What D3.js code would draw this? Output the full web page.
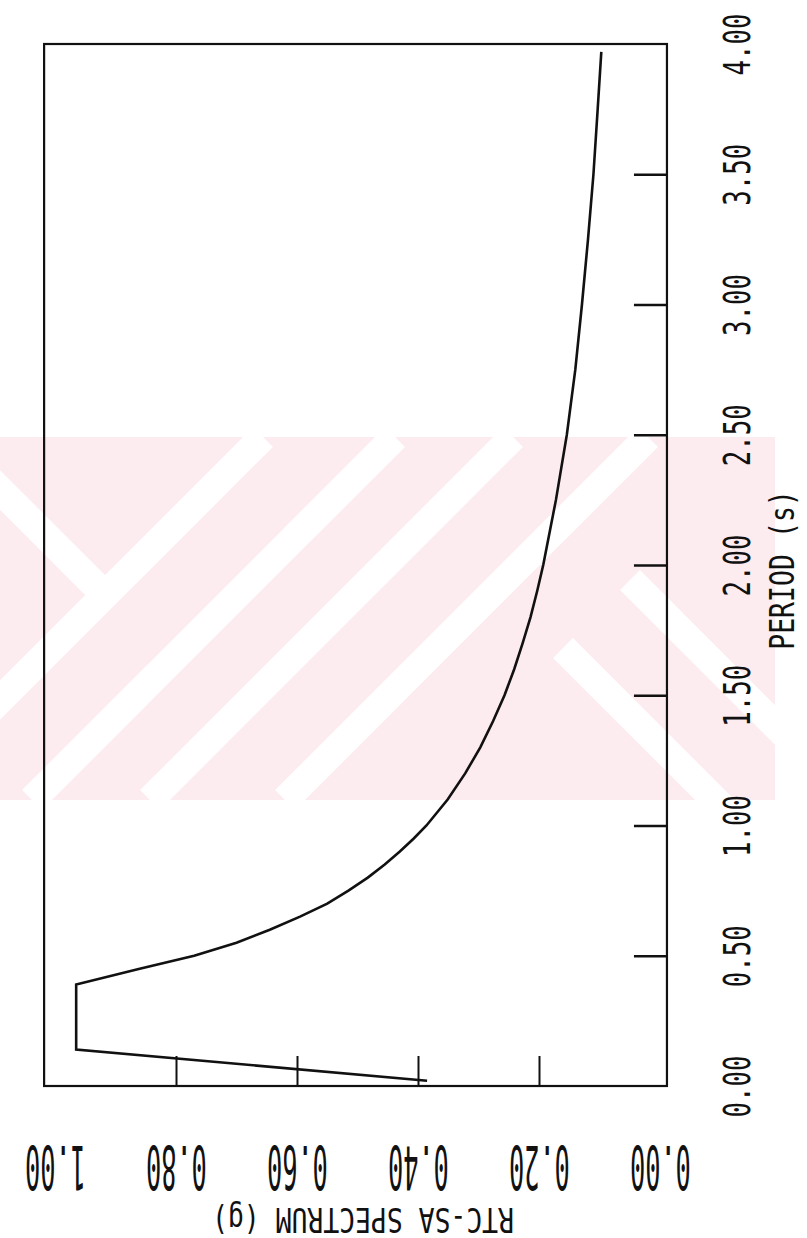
<!DOCTYPE html>
<html lang="en">
<head>
  <meta charset="utf-8">
  <title>RTC-SA spectrum</title>
  <style>
    body { margin: 0; background: #fff; }
    svg { display: block; }
    text { font-family: "DejaVu Sans Mono", monospace; fill: #111; }
  </style>
</head>
<body>
  <script src="https://d3js.org/d3.v7.min.js"></script>
  <svg width="807" height="1238"></svg>
  <script>
    // period (s) and spectral acceleration (g)
    var periods  = [0.02, 0.14, 0.39, 0.45, 0.50, 0.55, 0.60, 0.65, 0.70, 0.75, 0.80, 0.85, 0.90, 0.95, 1.00,
                    1.10, 1.20, 1.30, 1.40, 1.50, 1.60, 1.70, 1.80, 1.90, 2.00, 2.25, 2.50, 2.75, 3.00,
                    3.25, 3.50, 3.75, 3.97];
    var spectrum = [0.385, 0.965, 0.965, 0.86, 0.77, 0.70, 0.645, 0.595, 0.55, 0.515, 0.483, 0.455, 0.43, 0.407, 0.386,
                    0.351, 0.322, 0.297, 0.276, 0.257, 0.241, 0.227, 0.214, 0.203, 0.193, 0.172, 0.154, 0.140, 0.129,
                    0.119, 0.110, 0.103, 0.097];

    var periodTicks   = [0, 0.5, 1, 1.5, 2, 2.5, 3, 3.5, 4];
    var spectrumTicks = [0, 0.2, 0.4, 0.6, 0.8, 1];

    var svg = d3.select("svg");

    // the sheet is turned: period runs bottom -> top, spectrum runs right -> left
    var per = d3.scaleLinear().domain([0, 4]).range([1086, 44]);
    var sa  = d3.scaleLinear().domain([0, 1]).range([660, 55]);

    // faint watermark band behind the plot
    var wm = svg.append("g").attr("class", "watermark");
    wm.append("clipPath").attr("id", "wmclip")
      .append("rect").attr("x", 0).attr("y", 437).attr("width", 775).attr("height", 363);
    var wg = wm.append("g").attr("clip-path", "url(#wmclip)");
    wg.append("rect").attr("x", 0).attr("y", 437).attr("width", 775).attr("height", 363).attr("fill", "#fdecef");
    // "/" stripes, x + y = c
    [700, 832, 950, 1085].forEach(function (c) {
      wg.append("line").attr("x1", c - 437).attr("y1", 437).attr("x2", c - 800).attr("y2", 800)
        .attr("stroke", "#fff").attr("stroke-width", 28);
    });
    // "\" stripes, x - y = c, starting at x0
    [[-490, -20, 100], [-85, 563, 900], [50, 630, 900]].forEach(function (s) {
      wg.append("line").attr("x1", s[1]).attr("y1", s[1] - s[0])
        .attr("x2", s[2]).attr("y2", s[2] - s[0])
        .attr("stroke", "#fff").attr("stroke-width", 28);
    });

    // plot frame
    var frameL = sa(1.018), frameR = sa(-0.0115), frameT = per(4), frameB = per(0);
    svg.append("rect")
      .attr("x", frameL).attr("y", frameT)
      .attr("width", frameR - frameL).attr("height", frameB - frameT)
      .attr("fill", "none").attr("stroke", "#111").attr("stroke-width", 2.2);

    // period axis on the right edge, ticks pointing in
    var periodAxis = d3.axisLeft(per).tickValues(periodTicks).tickSize(33).tickSizeOuter(0)
      .tickFormat(d3.format(".2f"));
    var pa = svg.append("g").attr("transform", "translate(" + frameR + ",0)").call(periodAxis);
    pa.select(".domain").remove();
    pa.selectAll(".tick line").attr("stroke", "#111").attr("stroke-width", 2.4)
      .attr("display", function (d) { return d === 0 || d === 4 ? "none" : null; });
    pa.selectAll(".tick text")
      .attr("x", null).attr("dy", "0.36em")
      .attr("text-anchor", "middle")
      .attr("font-size", 38)
      .attr("transform", "translate(" + (736 - frameR) + ",0) rotate(-90) scale(0.68,1)");

    // spectrum axis along the bottom edge, labels upside down
    var specAxis = d3.axisTop(sa).tickValues(spectrumTicks).tickSize(30).tickSizeOuter(0)
      .tickFormat(d3.format(".2f"));
    var sx = svg.append("g").attr("transform", "translate(0," + frameB + ")").call(specAxis);
    sx.select(".domain").remove();
    sx.selectAll(".tick line").attr("stroke", "#111").attr("stroke-width", 2)
      .attr("display", function (d) { return d === 0 || d === 1 ? "none" : null; });
    sx.selectAll(".tick text")
      .attr("y", null).attr("dy", "0.36em")
      .attr("text-anchor", "middle")
      .attr("font-size", 60)
      .attr("transform", "translate(0," + (1168 - frameB) + ") rotate(180) scale(0.42,1)");

    // axis titles
    svg.append("text")
      .attr("transform", "translate(782,570) rotate(-90) scale(0.78,1)")
      .attr("text-anchor", "middle").attr("dy", "0.36em").attr("font-size", 34)
      .text("PERIOD (s)");
    svg.append("text")
      .attr("transform", "translate(363,1220) rotate(180) scale(0.8,1)")
      .attr("text-anchor", "middle").attr("dy", "0.36em").attr("font-size", 33)
      .text("RTC-SA SPECTRUM (g)");

    // spectrum curve
    var pts = periods.map(function (t, i) { return { t: t, s: spectrum[i] }; });
    var line = d3.line()
      .x(function (d) { return sa(d.s); })
      .y(function (d) { return per(d.t); });
    svg.append("path")
      .datum(pts)
      .attr("d", line)
      .attr("fill", "none")
      .attr("stroke", "#111")
      .attr("stroke-width", 2.6)
      .attr("stroke-linejoin", "miter");
  </script>
</body>
</html>
